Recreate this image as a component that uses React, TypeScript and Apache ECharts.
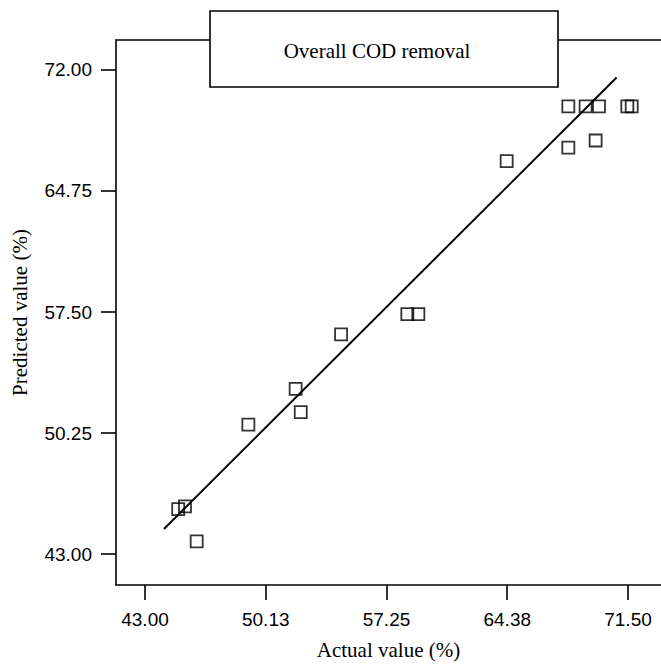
import React, { useEffect, useRef } from "react";
import * as echarts from "echarts";

const actualValues = [44.96, 45.36, 46.05, 49.1, 51.89, 52.19, 54.57, 58.48, 59.13, 64.34, 67.98, 67.98, 69.0, 69.79, 69.59, 71.46, 71.72];
const predictedValues = [45.7, 45.86, 43.77, 50.76, 52.9, 51.5, 56.16, 57.37, 57.37, 66.54, 69.81, 67.34, 69.81, 69.81, 67.77, 69.81, 69.81];

const fitLineX = [44.12, 70.83];
const fitLineY = [44.51, 71.54];

const xTicks = [43, 50.125, 57.25, 64.375, 71.5];
const xTickLabels = ["43.00", "50.13", "57.25", "64.38", "71.50"];
const yTicks = [43, 50.25, 57.5, 64.75, 72];
const yTickLabels = ["43.00", "50.25", "57.50", "64.75", "72.00"];

const xRange = [41.289, 73.448];
const yRange = [41.154, 73.787];

const chartTitle = "Overall COD removal";
const xName = "Actual value (%)";
const yName = "Predicted value (%)";

export default function App() {
  const ref = useRef<HTMLDivElement>(null);
  useEffect(() => {
    if (!ref.current) return;
    const chart = echarts.init(ref.current, undefined, { renderer: "svg" });
    const serif = "'Liberation Serif', 'Times New Roman', serif";
    const sans = "'Liberation Sans', Arial, sans-serif";
    const lineStyle = { color: "#000", width: 1.6 };
    chart.setOption({
      animation: false,
      backgroundColor: "#fff",
      grid: { left: 116, top: 40, right: 0, bottom: 77, containLabel: false },
      xAxis: [
        {
          type: "value",
          min: xRange[0],
          max: xRange[1],
          splitLine: { show: false },
          axisLine: { show: true, lineStyle },
          axisTick: { show: true, length: 15, lineStyle, customValues: xTicks },
          axisLabel: {
            show: true,
            customValues: xTicks,
            margin: 25,
            color: "#000",
            fontSize: 19,
            fontFamily: sans,
            formatter: (v: number) => {
              const i = xTicks.findIndex((t) => Math.abs(t - v) < 1e-6);
              return i >= 0 ? xTickLabels[i] : "";
            },
          },
          name: xName,
          nameLocation: "middle",
          nameGap: 54,
          nameTextStyle: { color: "#000", fontSize: 21, fontFamily: serif },
        },
        {
          type: "value",
          position: "top",
          min: xRange[0],
          max: xRange[1],
          splitLine: { show: false },
          axisLine: { show: true, lineStyle },
          axisTick: { show: false },
          axisLabel: { show: false },
        },
      ],
      yAxis: {
        type: "value",
        min: yRange[0],
        max: yRange[1],
        splitLine: { show: false },
        axisLine: { show: true, lineStyle },
        axisTick: { show: true, length: 15, lineStyle, customValues: yTicks },
        axisLabel: {
          show: true,
          customValues: yTicks,
          margin: 24,
          color: "#000",
          fontSize: 19,
          fontFamily: sans,
          formatter: (v: number) => {
            const i = yTicks.findIndex((t) => Math.abs(t - v) < 1e-6);
            return i >= 0 ? yTickLabels[i] : "";
          },
        },
        name: yName,
        nameLocation: "middle",
        nameGap: 86,
        nameTextStyle: { color: "#000", fontSize: 21, fontFamily: serif },
      },
      series: [
        {
          type: "line",
          data: fitLineX.map((x, i) => [x, fitLineY[i]]),
          showSymbol: false,
          symbol: "none",
          lineStyle: { color: "#000", width: 2 },
          silent: true,
          z: 2,
        },
        {
          type: "scatter",
          data: actualValues.map((x, i) => [x, predictedValues[i]]),
          symbol: "rect",
          symbolSize: 12,
          itemStyle: { color: "rgba(0,0,0,0)", borderColor: "#000", borderWidth: 1.8 },
          z: 3,
        },
      ],
      graphic: [
        {
          type: "rect",
          z: 100,
          zlevel: 1,
          shape: { x: 210, y: 11, width: 348, height: 76 },
          style: { fill: "#fff", stroke: "#000", lineWidth: 1.6 },
        },
        {
          type: "text",
          z: 101,
          zlevel: 1,
          x: 377,
          y: 51,
          style: {
            text: chartTitle,
            fill: "#000",
            font: `21px ${serif}`,
            textAlign: "center",
            textVerticalAlign: "middle",
          },
        },
      ],
    });
    return () => chart.dispose();
  }, []);
  return (
    <div
      ref={ref}
      style={{ position: "absolute", left: 0, top: 0, width: 661, height: 665 }}
    />
  );
}
